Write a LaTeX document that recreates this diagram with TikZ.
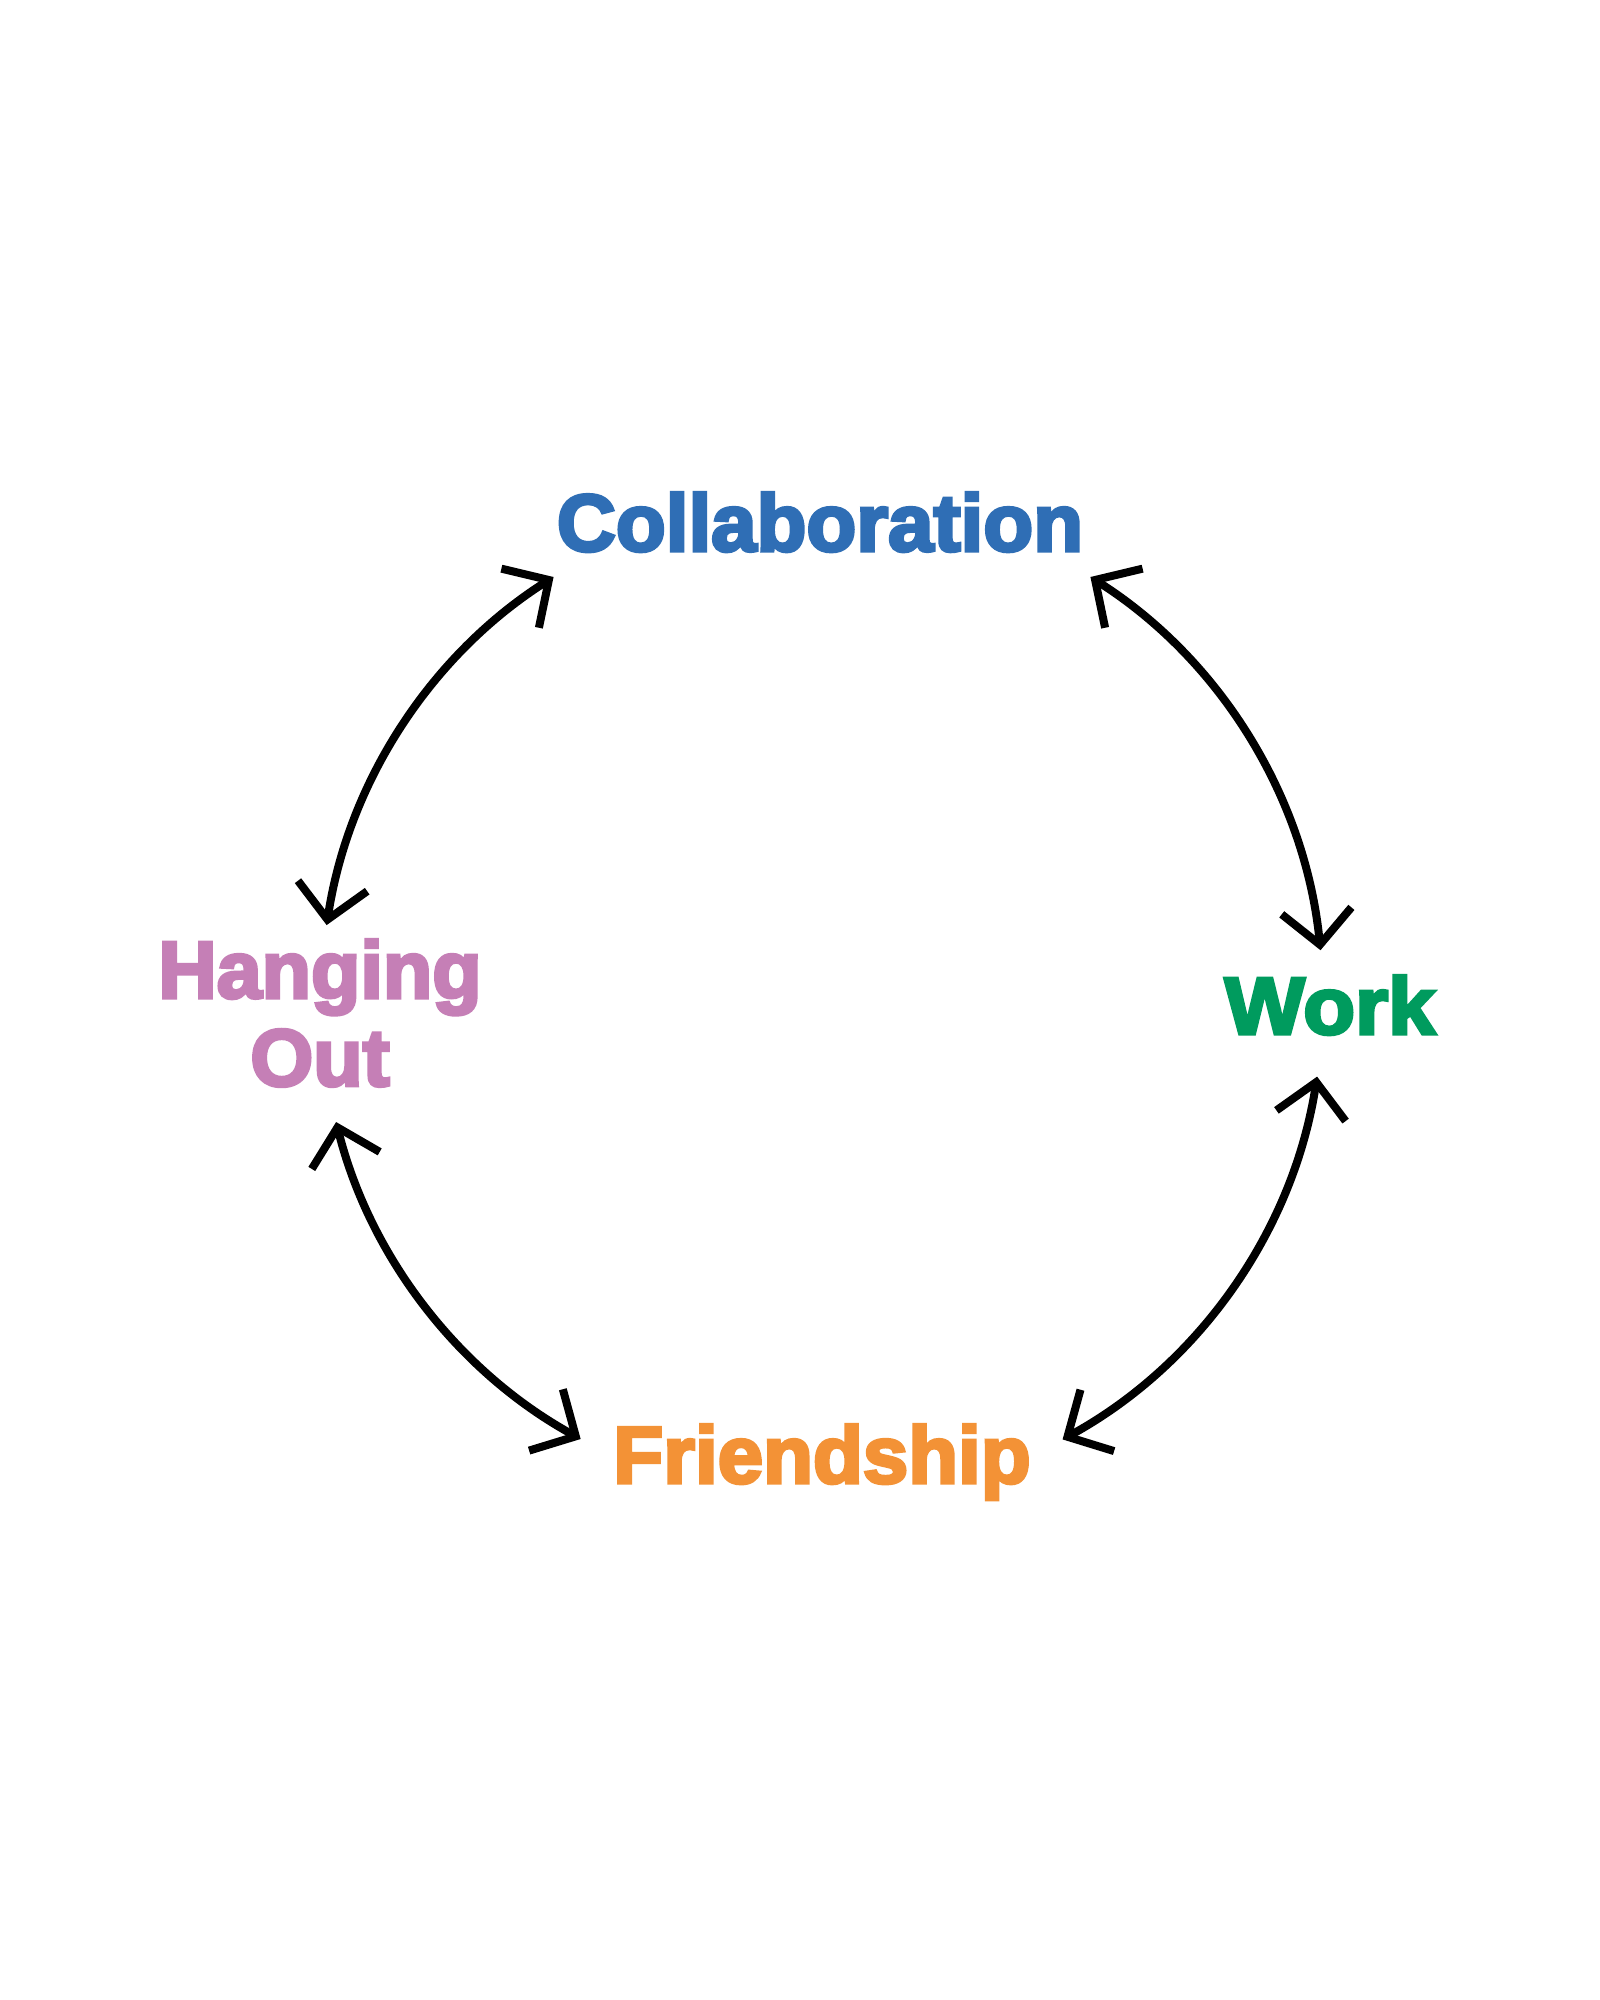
\documentclass[tikz,border=0pt]{standalone}
\usepackage{fontspec}
\setmainfont{Liberation Sans}[BoldFont={Liberation Sans Bold},BoldFeatures={FakeBold=4}]
\usetikzlibrary{arrows.meta}
\definecolor{cblue}{HTML}{2F6EB5}
\definecolor{cpink}{HTML}{C57FB6}
\definecolor{cgreen}{HTML}{009B5E}
\definecolor{corange}{HTML}{F39236}
\tikzset{
  lbl/.style={inner sep=0pt, font=\fontsize{23}{25}\selectfont\bfseries, align=center},
  biarrow/.style={line width=0.08cm, {Straight Barb[sharp,length=0.34cm,width=0.70cm]}-{Straight Barb[sharp,length=0.34cm,width=0.70cm]}}
}
\begin{document}
\begin{tikzpicture}
\useasboundingbox (0,0) rectangle (16,20);
\fill[white] (0,0) rectangle (16,20);
% labels
\node[lbl, text=cblue, anchor=base] (collab) at (8.20,14.49) {\scalebox{1.01}[1]{Collaboration}};
\node[lbl, text=cpink, anchor=center] (hang) at (3.20,9.87) {Hanging\\Out};
\node[lbl, text=cgreen, anchor=base] (work) at (13.30,9.66) {\scalebox{1.05}[1]{Work}};
\node[lbl, text=corange, anchor=base] (friend) at (8.22,5.17) {\scalebox{1.01}[1]{Friendship}};
% circle of connectors
\coordinate (c) at (8.22,10.00);
\path (c) ++(171.4:5.01) coordinate (hTop);
\path (c) ++(194.1:5.01) coordinate (hBot);
\path (c) ++(5.7:5.01) coordinate (wTop);
\path (c) ++(351.2:5.01) coordinate (wBot);
\draw[biarrow] (hTop) arc[start angle=171.4, end angle=122.4, radius=5.01];
\draw[biarrow] (wTop) arc[start angle=5.7, end angle=57.6, radius=5.01];
\draw[biarrow] (wBot) arc[start angle=351.2, end angle=298.7, radius=5.01];
\draw[biarrow] (hBot) arc[start angle=194.1, end angle=241.2, radius=5.01];
\end{tikzpicture}
\end{document}
